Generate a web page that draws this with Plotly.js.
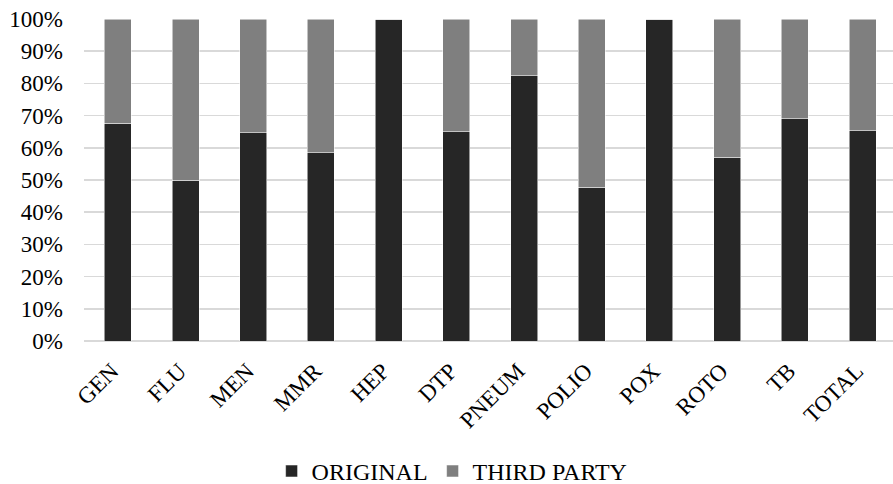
<!DOCTYPE html>
<html>
<head>
<meta charset="utf-8">
<script src="https://cdn.plot.ly/plotly-3.0.1.min.js"></script>
<style>
  html, body { margin: 0; padding: 0; background: #fff; overflow: hidden; }
  #chart { width: 893px; height: 484px; }
</style>
</head>
<body>
<div id="chart"></div>
<script>
// Vaccine categories and share of original vs third-party (percent)
const categories = ["GEN", "FLU", "MEN", "MMR", "HEP", "DTP", "PNEUM", "POLIO", "POX", "ROTO", "TB", "TOTAL"];
const originalPct = [67.7, 49.9, 64.6, 58.5, 100, 65.0, 82.4, 47.8, 100, 57.0, 69.0, 65.3];
const thirdPartyPct = [32.3, 50.1, 35.4, 41.5, 0, 35.0, 17.6, 52.2, 0, 43.0, 31.0, 34.7];
const yTickVals = [0, 10, 20, 30, 40, 50, 60, 70, 80, 90, 100];
const yTickText = ["0%", "10%", "20%", "30%", "40%", "50%", "60%", "70%", "80%", "90%", "100%"];

const family = "Liberation Serif, Times New Roman, serif";
const tickFont = { family: family, size: 23, color: "#000" };
const legendFont = { family: family, size: 24, color: "#000" };
const edge = { color: "rgba(255,255,255,0.7)", width: 0.75 };

const traces = [
  { type: "bar", name: "ORIGINAL", x: categories, y: originalPct,
    marker: { color: "#262626", line: edge } },
  { type: "bar", name: "THIRD PARTY", x: categories, y: thirdPartyPct,
    marker: { color: "#7f7f7f", line: edge } }
];

const layout = {
  width: 893, height: 484,
  margin: { l: 84, r: 0, t: 19, b: 142.5, autoexpand: false },
  paper_bgcolor: "#fff", plot_bgcolor: "#fff",
  barmode: "stack", bargap: 0.6,
  font: tickFont,
  showlegend: true,
  legend: {
    orientation: "h", x: 0.455, xanchor: "center", y: -0.405, yanchor: "middle",
    font: legendFont, traceorder: "normal", itemclick: false
  },
  xaxis: {
    type: "category", range: [-0.5, 11.45],
    tickangle: -45, ticks: "", showgrid: false, zeroline: false, showline: false,
    tickfont: tickFont, fixedrange: true, ticklabelstandoff: 11, ticklabelshift: -6
  },
  yaxis: {
    range: [0, 100], tickvals: yTickVals, ticktext: yTickText,
    ticks: "", ticklabelstandoff: 20,
    showgrid: true, gridcolor: "#d9d9d9", gridwidth: 1.5,
    zeroline: true, zerolinecolor: "#d9d9d9", zerolinewidth: 1.5,
    showline: false, tickfont: tickFont, fixedrange: true
  }
};

Plotly.newPlot("chart", traces, layout, { staticPlot: true, displayModeBar: false });
</script>
</body>
</html>
